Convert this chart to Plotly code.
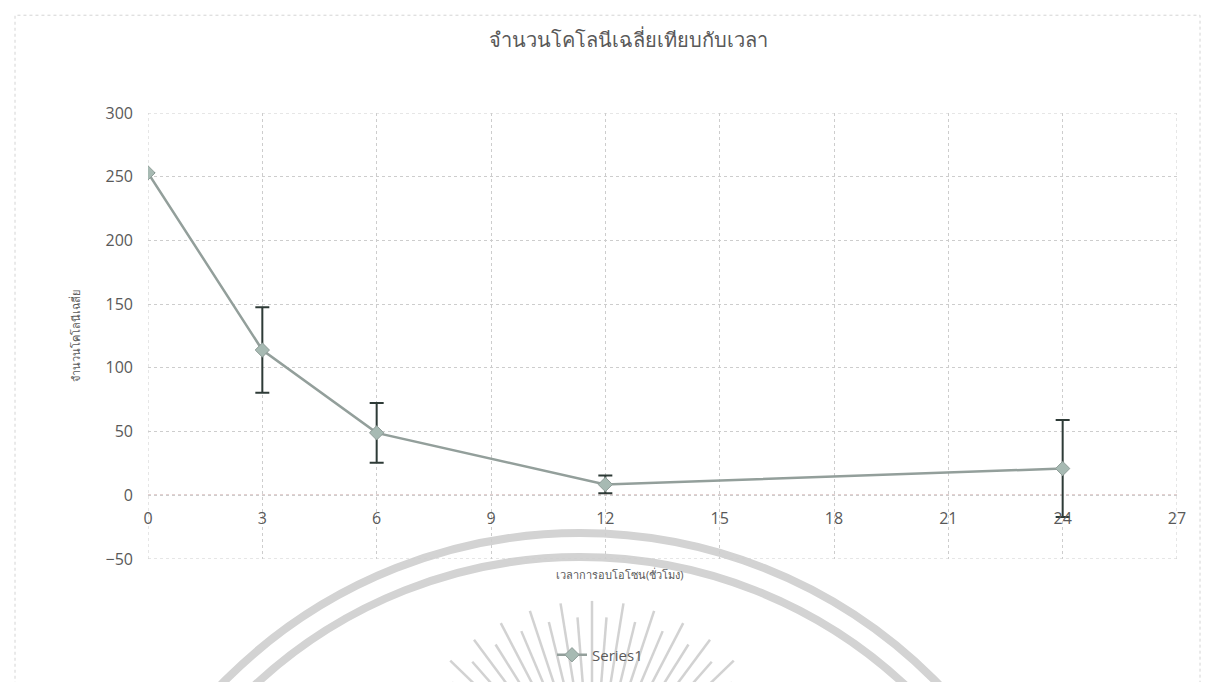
import math
import plotly.graph_objects as go

# Mean colony counts over exposure time (hours), with error bar half-widths
hours = [0, 3, 6, 12, 24]
mean_colonies = [253, 114, 49, 8.5, 21]
error_amount = [0, 33.5, 23.5, 7, 38]

x_ticks = [0, 3, 6, 9, 12, 15, 18, 21, 24, 27]
y_ticks = [-50, 0, 50, 100, 150, 200, 250, 300]

title_text = "จำนวนโคโลนีเฉลี่ยเทียบกับเวลา"
y_title_text = "จำนวนโคโลนีเฉลี่ย"
x_title_text = "เวลาการอบโอโซน(ชั่วโมง)"
series_name = "Series1"

W, H = 1214, 682
L, R, T, B = 148, 37, 113, 122
PW, PH = W - L - R, H - T - B


def px(xp):
    return (xp - L) / PW


def py(yp):
    return (H - B - yp) / PH


TEXT = "#595959"
GRID = "#cdcdcd"
FONT = "Open Sans, Noto Sans, sans-serif"

fig = go.Figure()
fig.add_trace(go.Scatter(
    x=hours, y=mean_colonies, name=series_name, mode="lines+markers",
    line=dict(color="#939f9b", width=2.5),
    marker=dict(symbol="diamond", size=11, color="#a7bab3",
                line=dict(color="#8f9d98", width=1)),
    error_y=dict(type="data", array=error_amount, visible=True,
                 color="#2e3b37", thickness=2, width=7),
))

shapes = []
# outer chart frame (dotted)
shapes.append(dict(type="rect", xref="paper", yref="paper",
                   x0=px(15), x1=px(1200), y0=py(700), y1=py(15),
                   line=dict(color="#d4d4d4", width=1, dash="dot"),
                   layer="below"))
# watermark seal: two concentric arcs
cx, cy = 580, 1034
for rad in (500, 476):
    shapes.append(dict(type="circle", xref="paper", yref="paper",
                       x0=px(cx - rad), x1=px(cx + rad),
                       y0=py(cy + rad), y1=py(cy - rad),
                       line=dict(color="#d3d3d3", width=8), layer="below"))
# watermark rays
rx, ry = 592, 800
n_rays = 29
for i in range(n_rays):
    ang = math.radians(-64 + 128 * i / (n_rays - 1))
    r_out = 198 if i % 2 == 0 else 182
    r_in = 95
    shapes.append(dict(type="line", xref="paper", yref="paper",
                       x0=px(rx + r_in * math.sin(ang)), y0=py(ry - r_in * math.cos(ang)),
                       x1=px(rx + r_out * math.sin(ang)), y1=py(ry - r_out * math.cos(ang)),
                       line=dict(color="#d2d2d2", width=2.5), layer="below"))
# plot-area edge gridlines (first/last tick)
for yv in (y_ticks[0], y_ticks[-1]):
    shapes.append(dict(type="line", xref="x", yref="y", x0=x_ticks[0], x1=x_ticks[-1],
                       y0=yv, y1=yv, line=dict(color=GRID, width=1, dash="dot"),
                       layer="below"))
for xv in (x_ticks[0], x_ticks[-1]):
    shapes.append(dict(type="line", xref="x", yref="y", x0=xv, x1=xv,
                       y0=y_ticks[0], y1=y_ticks[-1],
                       line=dict(color=GRID, width=1, dash="dot"), layer="below"))
# horizontal axis line at zero (reddish dotted)
shapes.append(dict(type="line", xref="x", yref="y", x0=0, x1=27, y0=0, y1=0,
                   line=dict(color="#c9a4a4", width=1.5, dash="dot"), layer="below"))

fig.update_layout(
    width=W, height=H,
    margin=dict(l=L, r=R, t=T, b=B),
    paper_bgcolor="white", plot_bgcolor="rgba(0,0,0,0)",
    font=dict(family=FONT, color=TEXT),
    title=dict(text=title_text, x=628 / W, xanchor="center",
               y=1 - 40 / H, yanchor="middle",
               font=dict(size=20, color=TEXT)),
    xaxis=dict(range=[0, 27], tickvals=x_ticks, ticktext=[str(v) for v in x_ticks],
               showgrid=True, gridcolor=GRID, griddash="dot", gridwidth=1,
               zeroline=False, showline=False, ticks="",
               anchor="free", position=py(496), ticklabelstandoff=12,
               tickfont=dict(size=16, color=TEXT)),
    yaxis=dict(range=[-50, 300], tickvals=y_ticks,
               showgrid=True, gridcolor=GRID, griddash="dot", gridwidth=1,
               zeroline=False, showline=False, ticks="",
               ticklabelstandoff=14,
               tickfont=dict(size=16, color=TEXT),
               title=dict(text=y_title_text, standoff=22,
                          font=dict(size=11, color=TEXT))),
    showlegend=True,
    legend=dict(orientation="h", x=px(600), xanchor="center",
                y=py(655), yanchor="middle", bgcolor="rgba(0,0,0,0)",
                font=dict(size=15, color=TEXT)),
    shapes=shapes,
    annotations=[dict(text=x_title_text, xref="paper", yref="paper",
                      x=px(620), y=py(585), showarrow=False,
                      font=dict(size=11, color=TEXT))],
)

fig.write_html("out.html")
